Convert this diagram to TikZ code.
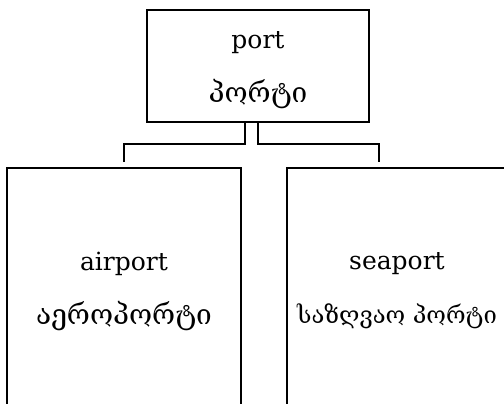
\documentclass[tikz,border=0pt]{standalone}
\usepackage{fontspec}
\setmainfont{DejaVu Serif}
\usepackage{tikz}
\usetikzlibrary{positioning, calc}
\newcommand{\geo}[1]{{\fontsize{28pt}{54pt}\selectfont #1}}

\begin{document}
\begin{tikzpicture}[x=1pt, y=-1pt,
    termbox/.style={rectangle, draw=black, line width=2.9pt, fill=white,
                    align=center, inner sep=0pt,
                    font=\fontsize{25pt}{54pt}\selectfont},
    link/.style={draw=black, line width=2.9pt}
]
\useasboundingbox (0,0) rectangle (504,404);
\clip (0,0) rectangle (504,404);
\node[termbox, minimum width=222pt, minimum height=112pt] (port) at (258,66) {\rule{0pt}{26pt}port\\\geo{პორტი}};
\node[termbox, minimum width=234pt, minimum height=246pt] (air) at (124,291) {airport\\\geo{აეროპორტი}};
\node[termbox, minimum width=220pt, minimum height=246pt] (sea) at (397,291) {seaport\\{\fontsize{23.8pt}{54pt}\selectfont საზღვაო პორტი}};
\draw[link] ([xshift=-13pt]port.south) -- ++(0,20.5) -| ([yshift=5pt]air.north);
\draw[link] (port.south) -- ++(0,20.5) -| ([xshift=-18pt, yshift=5pt]sea.north);
\end{tikzpicture}
\end{document}
